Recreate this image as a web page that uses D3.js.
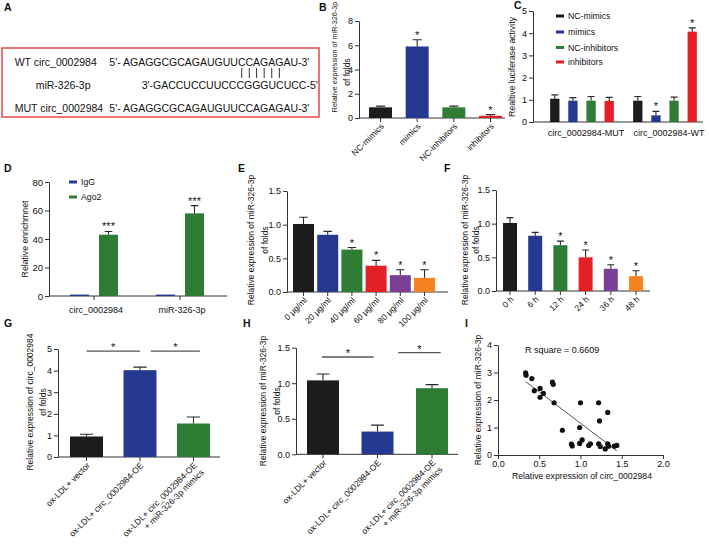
<!DOCTYPE html>
<html>
<head>
<meta charset="utf-8">
<script src="https://cdn.jsdelivr.net/npm/d3@7"></script>
<style>
body { margin: 0; background: #fff; }
svg { font-family: "Liberation Sans", Arial, sans-serif; }
.axis path, .axis line, .base { stroke: #333; stroke-width: 1; }
.axis text { fill: #111; font-size: 9px; }
.err { stroke: #2a2a2a; stroke-width: 1.1; fill: none; }
.star { font-size: 11px; text-anchor: middle; fill: #111; }
.cat { fill: #111; }
.lab { fill: #111; }
</style>
</head>
<body>
<svg id="fig" width="709" height="545"></svg>
<script>
// ---- data ----
const seqNames = ["WT circ_0002984", "miR-326-3p", "MUT circ_0002984"];
const seqTexts = ["5'- AGAGGCGCAGAUGUUCCAGAGAU-3'", "3'-GACCUCCUUCCCGGGUCUCC-5'", "5'- AGAGGCGCAGAUGUUCCAGAGAU-3'"];
const pairChars = [19, 20, 21, 22, 23, 24];

const bCats = ["NC-mimics", "mimics", "NC-inhibitors", "inhibitors"];
const bMeans = [0.88, 5.9, 0.88, 0.18];
const bErrs = [0.1, 0.55, 0.1, 0.1];
const bStars = ["", "*", "", "*"];

const cGroups = ["circ_0002984-MUT", "circ_0002984-WT"];
const cSeries = ["NC-mimics", "mimics", "NC-inhibitors", "inhibitors"];
const cMeans = [[1.05, 0.96, 0.96, 0.95], [0.96, 0.3, 0.96, 4.07]];
const cErrs = [[0.17, 0.14, 0.19, 0.16], [0.19, 0.18, 0.16, 0.17]];
const cStars = [["", "", "", ""], ["", "*", "", "*"]];

const dGroups = ["circ_0002984", "miR-326-3p"];
const dSeries = ["IgG", "Ago2"];
const dMeans = [[1, 43], [1, 58]];
const dErrs = [[0, 2.3], [0, 5.4]];
const dStars = [["", "***"], ["", "***"]];

const eCats = ["0 μg/ml", "20 μg/ml", "40 μg/ml", "60 μg/ml", "80 μg/ml", "100 μg/ml"];
const eMeans = [1.01, 0.85, 0.63, 0.39, 0.25, 0.21];
const eErrs = [0.1, 0.05, 0.03, 0.08, 0.08, 0.12];
const eStars = ["", "", "*", "*", "*", "*"];

const fCats = ["0 h", "6 h", "12 h", "24 h", "36 h", "48 h"];
const fMeans = [1.01, 0.82, 0.68, 0.5, 0.33, 0.22];
const fErrs = [0.08, 0.05, 0.06, 0.11, 0.06, 0.08];
const fStars = ["", "", "*", "*", "*", "*"];

const ghCats = [["ox-LDL+ vector"], ["ox-LDL+ circ_0002984-OE"], ["ox-LDL+ circ_0002984-OE", "+ miR-326-3p mimics"]];
const gMeans = [0.95, 4.02, 1.55];
const gErrs = [0.1, 0.14, 0.3];
const gSig = [{from: 0, to: 1, at: 4.9}, {from: 1.2, to: 2.12, at: 4.9}];

const hMeans = [1.04, 0.32, 0.93];
const hErrs = [0.09, 0.09, 0.05];
const hSig = [{from: -0.02, to: 0.93, at: 1.37}, {from: 1.38, to: 2.16, at: 1.43}];

const iPoints = [
  [0.335, 2.99], [0.34, 2.9], [0.41, 2.78], [0.44, 2.34], [0.51, 2.42], [0.51, 2.1],
  [0.55, 2.24], [0.66, 2.65], [0.67, 2.57], [0.68, 1.9], [0.78, 0.9], [1.0, 1.9],
  [0.99, 1.0], [1.22, 1.9], [1.23, 1.24], [1.33, 1.55], [0.89, 0.4], [0.9, 0.33],
  [0.99, 0.42], [1.02, 0.55], [1.1, 0.35], [1.12, 0.41], [1.22, 0.41], [1.24, 0.31],
  [1.3, 0.22], [1.33, 0.41], [1.34, 0.32], [1.41, 0.32], [1.44, 0.35]
];
const iRsq = "R square = 0.6609";

const COL = {
  black: "#1c1c1c", blue: "#24398f", green: "#2f7d35",
  red: "#e51f26", purple: "#7c3f97", orange: "#f4821f"
};
const six = [COL.black, COL.blue, COL.green, COL.red, COL.purple, COL.orange];

const svg = d3.select("#fig");
svg.append("rect").attr("width", 709).attr("height", 545).attr("fill", "#fff");

// ---- helpers ----
function barPanel(o) {
  const g = svg.append("g");
  const y = d3.scaleLinear().domain(o.yDomain).range(o.yRange);
  const y0 = y(0);
  g.append("g").attr("class", "axis").attr("transform", `translate(${o.x0},0)`)
    .call(d3.axisLeft(y).tickValues(o.ticks).tickSize(4).tickSizeOuter(0)
      .tickPadding(2).tickFormat(o.fmt));
  g.append("line").attr("class", "base")
    .attr("x1", o.x0).attr("x2", o.x1).attr("y1", y0).attr("y2", y0);
  g.selectAll(".xt").data(o.tickX).join("line").attr("class", "base")
    .attr("x1", d => d).attr("x2", d => d).attr("y1", y0).attr("y2", y0 + 4);

  const cap = Math.max(7, o.bw * 0.4);
  const bar = g.selectAll(".bar").data(o.rows).join("g");
  bar.append("rect")
    .attr("x", d => d.cx - o.bw / 2).attr("width", o.bw)
    .attr("y", d => y(d.v)).attr("height", d => y0 - y(d.v))
    .attr("fill", d => d.color);
  bar.filter(d => d.e > 0).append("path").attr("class", "err")
    .attr("d", d => `M${d.cx},${y(d.v)}V${y(d.v + d.e)}M${d.cx - cap / 2},${y(d.v + d.e)}H${d.cx + cap / 2}`);
  bar.filter(d => d.star).append("text").attr("class", "star")
    .attr("x", d => d.cx).attr("y", d => y(d.v + d.e) - 1).text(d => d.star);
  return {g, y, y0};
}

function slantLabels(g, cats, xs, y0, fs) {
  const t = g.selectAll(".cat").data(cats).join("text").attr("class", "cat")
    .attr("transform", (d, i) => `translate(${xs[i] + 4},${y0 + 9}) rotate(-45)`)
    .attr("text-anchor", "end").style("font-size", fs + "px");
  t.selectAll("tspan").data(d => Array.isArray(d) ? d : [d]).join("tspan")
    .attr("x", 0).attr("dy", (d, i) => i ? "1.15em" : 0).text(d => d);
}

function yLabel(lines) {
  lines.forEach(l => {
    svg.append("text").attr("class", "lab")
      .attr("transform", `translate(${l.cx + 0.35 * l.fs},${l.cy}) rotate(-90)`)
      .attr("text-anchor", "middle").style("font-size", l.fs + "px").text(l.t);
  });
}

function legend(items, colors, x, ys) {
  const g = svg.append("g");
  items.forEach((t, i) => {
    g.append("rect").attr("x", x).attr("y", ys[i] - 1.5).attr("width", 8).attr("height", 3).attr("fill", colors[i]);
    g.append("text").attr("x", x + 12).attr("y", ys[i] + 3).style("font-size", "8.7px").attr("fill", "#111").text(t);
  });
}

function sigLines(p, sig, xs) {
  const step = xs[1] - xs[0];
  const pos = f => xs[0] + f * step;
  sig.forEach(s => {
    const yy = p.y(s.at);
    p.g.append("line").attr("x1", pos(s.from)).attr("x2", pos(s.to))
      .attr("y1", yy).attr("y2", yy).attr("stroke", "#555").attr("stroke-width", 1.4);
    p.g.append("text").attr("class", "star")
      .attr("x", (pos(s.from) + pos(s.to)) / 2).attr("y", yy).text("*");
  });
}

// ---- panel letters ----
const letters = [["A", 4, 11], ["B", 319, 11], ["C", 514, 9], ["D", 4, 172], ["E", 238, 172],
                 ["F", 444, 172], ["G", 4, 327], ["H", 243, 327], ["I", 465, 327]];
svg.selectAll(".letter").data(letters).join("text")
  .attr("x", d => d[1]).attr("y", d => d[2]).text(d => d[0])
  .style("font-size", "10.5px").style("font-weight", "bold").attr("fill", "#111");

// ---- A ----
svg.append("rect").attr("x", 2).attr("y", 48).attr("width", 317).attr("height", 69)
  .attr("fill", "none").attr("stroke", "#e5474e").attr("stroke-width", 1.5);
const rowY = [65.5, 89, 112];
const nameX = [14.7, 35.7, 14.7];
const seqX = [109.3, 141.7, 109.3];
const seqNodes = [];
seqNames.forEach((n, i) => {
  svg.append("text").attr("x", nameX[i]).attr("y", rowY[i]).style("font-size", "10.5px").attr("fill", "#111").text(n);
  seqNodes.push(svg.append("text").attr("x", seqX[i]).attr("y", rowY[i])
    .style("font-size", "10.5px").attr("fill", "#111").text(seqTexts[i]).node());
});
svg.selectAll(".pair").data(pairChars).join("line")
  .attr("x1", d => { const e = seqNodes[0].getExtentOfChar(d); return e.x + e.width / 2; })
  .attr("x2", d => { const e = seqNodes[0].getExtentOfChar(d); return e.x + e.width / 2; })
  .attr("y1", 68).attr("y2", 78).attr("stroke", "#333").attr("stroke-width", 1);

// ---- B ----
{
  const xs = d3.scalePoint().domain(bCats).range([380.5, 490.5]);
  const rows = bCats.map((c, i) => ({cx: xs(c), v: bMeans[i], e: bErrs[i], star: bStars[i], color: six[i]}));
  const p = barPanel({x0: 359, x1: 505, yDomain: [0, 8], yRange: [118, 21], ticks: [0, 2, 4, 6, 8],
    fmt: d3.format("d"), tickX: bCats.map(xs), rows, bw: 23});
  slantLabels(p.g, bCats, bCats.map(xs), p.y0, 8.5);
  yLabel([{t: "Relative expression of miR-326-3p", cx: 334, cy: 57, fs: 7.2},
          {t: "of folds", cx: 347, cy: 72, fs: 8.5}]);
}

// ---- C ----
{
  const gx = d3.scalePoint().domain(cGroups).range([582, 665]);
  const sx = d3.scalePoint().domain(cSeries).range([-27.2, 27.2]);
  const rows = cGroups.flatMap((grp, gi) => cSeries.map((s, si) => ({
    cx: gx(grp) + sx(s), v: cMeans[gi][si], e: cErrs[gi][si], star: cStars[gi][si], color: six[si]})));
  const p = barPanel({x0: 533, x1: 703, yDomain: [0, 5], yRange: [122, 11], ticks: [0, 1, 2, 3, 4, 5],
    fmt: d3.format("d"), tickX: [], rows, bw: 9.3});
  p.g.selectAll(".grp").data(cGroups).join("text").attr("x", d => gx(d) + 4).attr("y", 136)
    .attr("text-anchor", "middle").style("font-size", "9px").attr("fill", "#111").text(d => d);
  legend(cSeries, six, 556, [16, 32, 47.5, 62]);
  yLabel([{t: "Realtive luciferase activity", cx: 512, cy: 67, fs: 8.7}]);
}

// ---- D ----
{
  const gx = d3.scalePoint().domain(dGroups).range([94, 180]);
  const sx = d3.scalePoint().domain(dSeries).range([-14.5, 14.5]);
  const dCols = [COL.blue, COL.green];
  const rows = dGroups.flatMap((grp, gi) => dSeries.map((s, si) => ({
    cx: gx(grp) + sx(s), v: dMeans[gi][si], e: dErrs[gi][si], star: dStars[gi][si], color: dCols[si]})));
  const p = barPanel({x0: 49, x1: 227, yDomain: [0, 80], yRange: [296, 182], ticks: [0, 20, 40, 60, 80],
    fmt: d3.format("d"), tickX: dGroups.map(gx), rows, bw: 19});
  p.g.selectAll(".axis text").style("font-size", "9.5px");
  p.g.selectAll(".grp").data(dGroups).join("text").attr("x", d => gx(d) + 2).attr("y", 313)
    .attr("text-anchor", "middle").style("font-size", "9px").attr("fill", "#111").text(d => d);
  legend(dSeries, dCols, 69, [182, 197]);
  yLabel([{t: "Relative enrichmnet", cx: 25, cy: 239, fs: 8.7}]);
}

// ---- E ----
{
  const xs = d3.scalePoint().domain(eCats).range([303.5, 424.5]);
  const rows = eCats.map((c, i) => ({cx: xs(c), v: eMeans[i], e: eErrs[i], star: eStars[i], color: six[i]}));
  const p = barPanel({x0: 287, x1: 448, yDomain: [0, 1.5], yRange: [292, 191], ticks: [0, 0.5, 1, 1.5],
    fmt: d3.format(".1f"), tickX: eCats.map(xs), rows, bw: 21});
  slantLabels(p.g, eCats, eCats.map(xs), p.y0, 8.5);
  yLabel([{t: "Relative expression of miR-326-3p", cx: 251, cy: 240, fs: 8.5},
          {t: "of folds", cx: 265, cy: 240, fs: 8.5}]);
}

// ---- F ----
{
  const xs = d3.scalePoint().domain(fCats).range([510, 636]);
  const rows = fCats.map((c, i) => ({cx: xs(c), v: fMeans[i], e: fErrs[i], star: fStars[i], color: six[i]}));
  const p = barPanel({x0: 496, x1: 650, yDomain: [0, 1.5], yRange: [291, 190], ticks: [0, 0.5, 1, 1.5],
    fmt: d3.format(".1f"), tickX: fCats.map(xs), rows, bw: 14});
  slantLabels(p.g, fCats, fCats.map(xs), p.y0, 8.5);
  yLabel([{t: "Relative expression of miR-326-3p", cx: 465, cy: 240, fs: 8.5},
          {t: "of folds", cx: 476, cy: 240, fs: 8.5}]);
}

// ---- G ----
{
  const idx = ghCats.map((d, i) => i);
  const xs = d3.scalePoint().domain(idx).range([86.5, 193.5]);
  const rows = idx.map(i => ({cx: xs(i), v: gMeans[i], e: gErrs[i], star: "", color: six[i]}));
  const p = barPanel({x0: 58, x1: 220, yDomain: [0, 5], yRange: [457, 349], ticks: [0, 1, 2, 3, 4, 5],
    fmt: d3.format("d"), tickX: idx.map(xs), rows, bw: 33});
  slantLabels(p.g, ghCats, idx.map(xs), p.y0, 8.5);
  sigLines(p, gSig, idx.map(xs));
  yLabel([{t: "Relative expression of circ_0002984", cx: 30, cy: 402, fs: 8.5},
          {t: "of folds", cx: 43, cy: 402, fs: 8.5}]);
}

// ---- H ----
{
  const idx = ghCats.map((d, i) => i);
  const xs = d3.scalePoint().domain(idx).range([323, 432]);
  const rows = idx.map(i => ({cx: xs(i), v: hMeans[i], e: hErrs[i], star: "", color: six[i]}));
  const p = barPanel({x0: 296, x1: 458, yDomain: [0, 1.5], yRange: [454.3, 347.7], ticks: [0, 0.5, 1, 1.5],
    fmt: d3.format(".1f"), tickX: idx.map(xs), rows, bw: 32});
  slantLabels(p.g, ghCats, idx.map(xs), p.y0, 8.5);
  sigLines(p, hSig, idx.map(xs));
  yLabel([{t: "Relative expression of miR-326-3p", cx: 263, cy: 401, fs: 8.5},
          {t: "of folds", cx: 277, cy: 401, fs: 8.5}]);
}

// ---- I ----
{
  const g = svg.append("g");
  const x = d3.scaleLinear().domain([0, 2]).range([498, 663]);
  const y = d3.scaleLinear().domain([0, 4]).range([455, 345]);
  g.append("g").attr("class", "axis").attr("transform", "translate(0,455)")
    .call(d3.axisBottom(x).tickValues([0, 0.5, 1, 1.5, 2]).tickSize(4).tickSizeOuter(0)
      .tickPadding(2).tickFormat(d3.format(".1f")));
  g.append("g").attr("class", "axis").attr("transform", "translate(498,0)")
    .call(d3.axisLeft(y).tickValues([0, 1, 2, 3, 4]).tickSize(4).tickSizeOuter(0)
      .tickPadding(2).tickFormat(d3.format("d")));
  // least squares fit of the points
  const mx = d3.mean(iPoints, d => d[0]), my = d3.mean(iPoints, d => d[1]);
  const slope = d3.sum(iPoints, d => (d[0] - mx) * (d[1] - my)) / d3.sum(iPoints, d => (d[0] - mx) ** 2);
  const ext = d3.extent(iPoints, d => d[0]);
  g.append("line").attr("x1", x(ext[0])).attr("x2", x(ext[1]))
    .attr("y1", y(my + slope * (ext[0] - mx))).attr("y2", y(my + slope * (ext[1] - mx)))
    .attr("stroke", "#555").attr("stroke-width", 1);
  g.selectAll(".pt").data(iPoints).join("circle")
    .attr("cx", d => x(d[0])).attr("cy", d => y(d[1])).attr("r", 2.6).attr("fill", "#111");
  g.append("text").attr("x", 525).attr("y", 353).style("font-size", "9px").attr("fill", "#111").text(iRsq);
  g.append("text").attr("x", 582).attr("y", 479).attr("text-anchor", "middle")
    .style("font-size", "8.7px").attr("fill", "#111").text("Relative expression of circ_0002984");
  yLabel([{t: "Relative expression of miR-326-3p", cx: 478, cy: 400, fs: 8.5}]);
}
</script>
</body>
</html>
